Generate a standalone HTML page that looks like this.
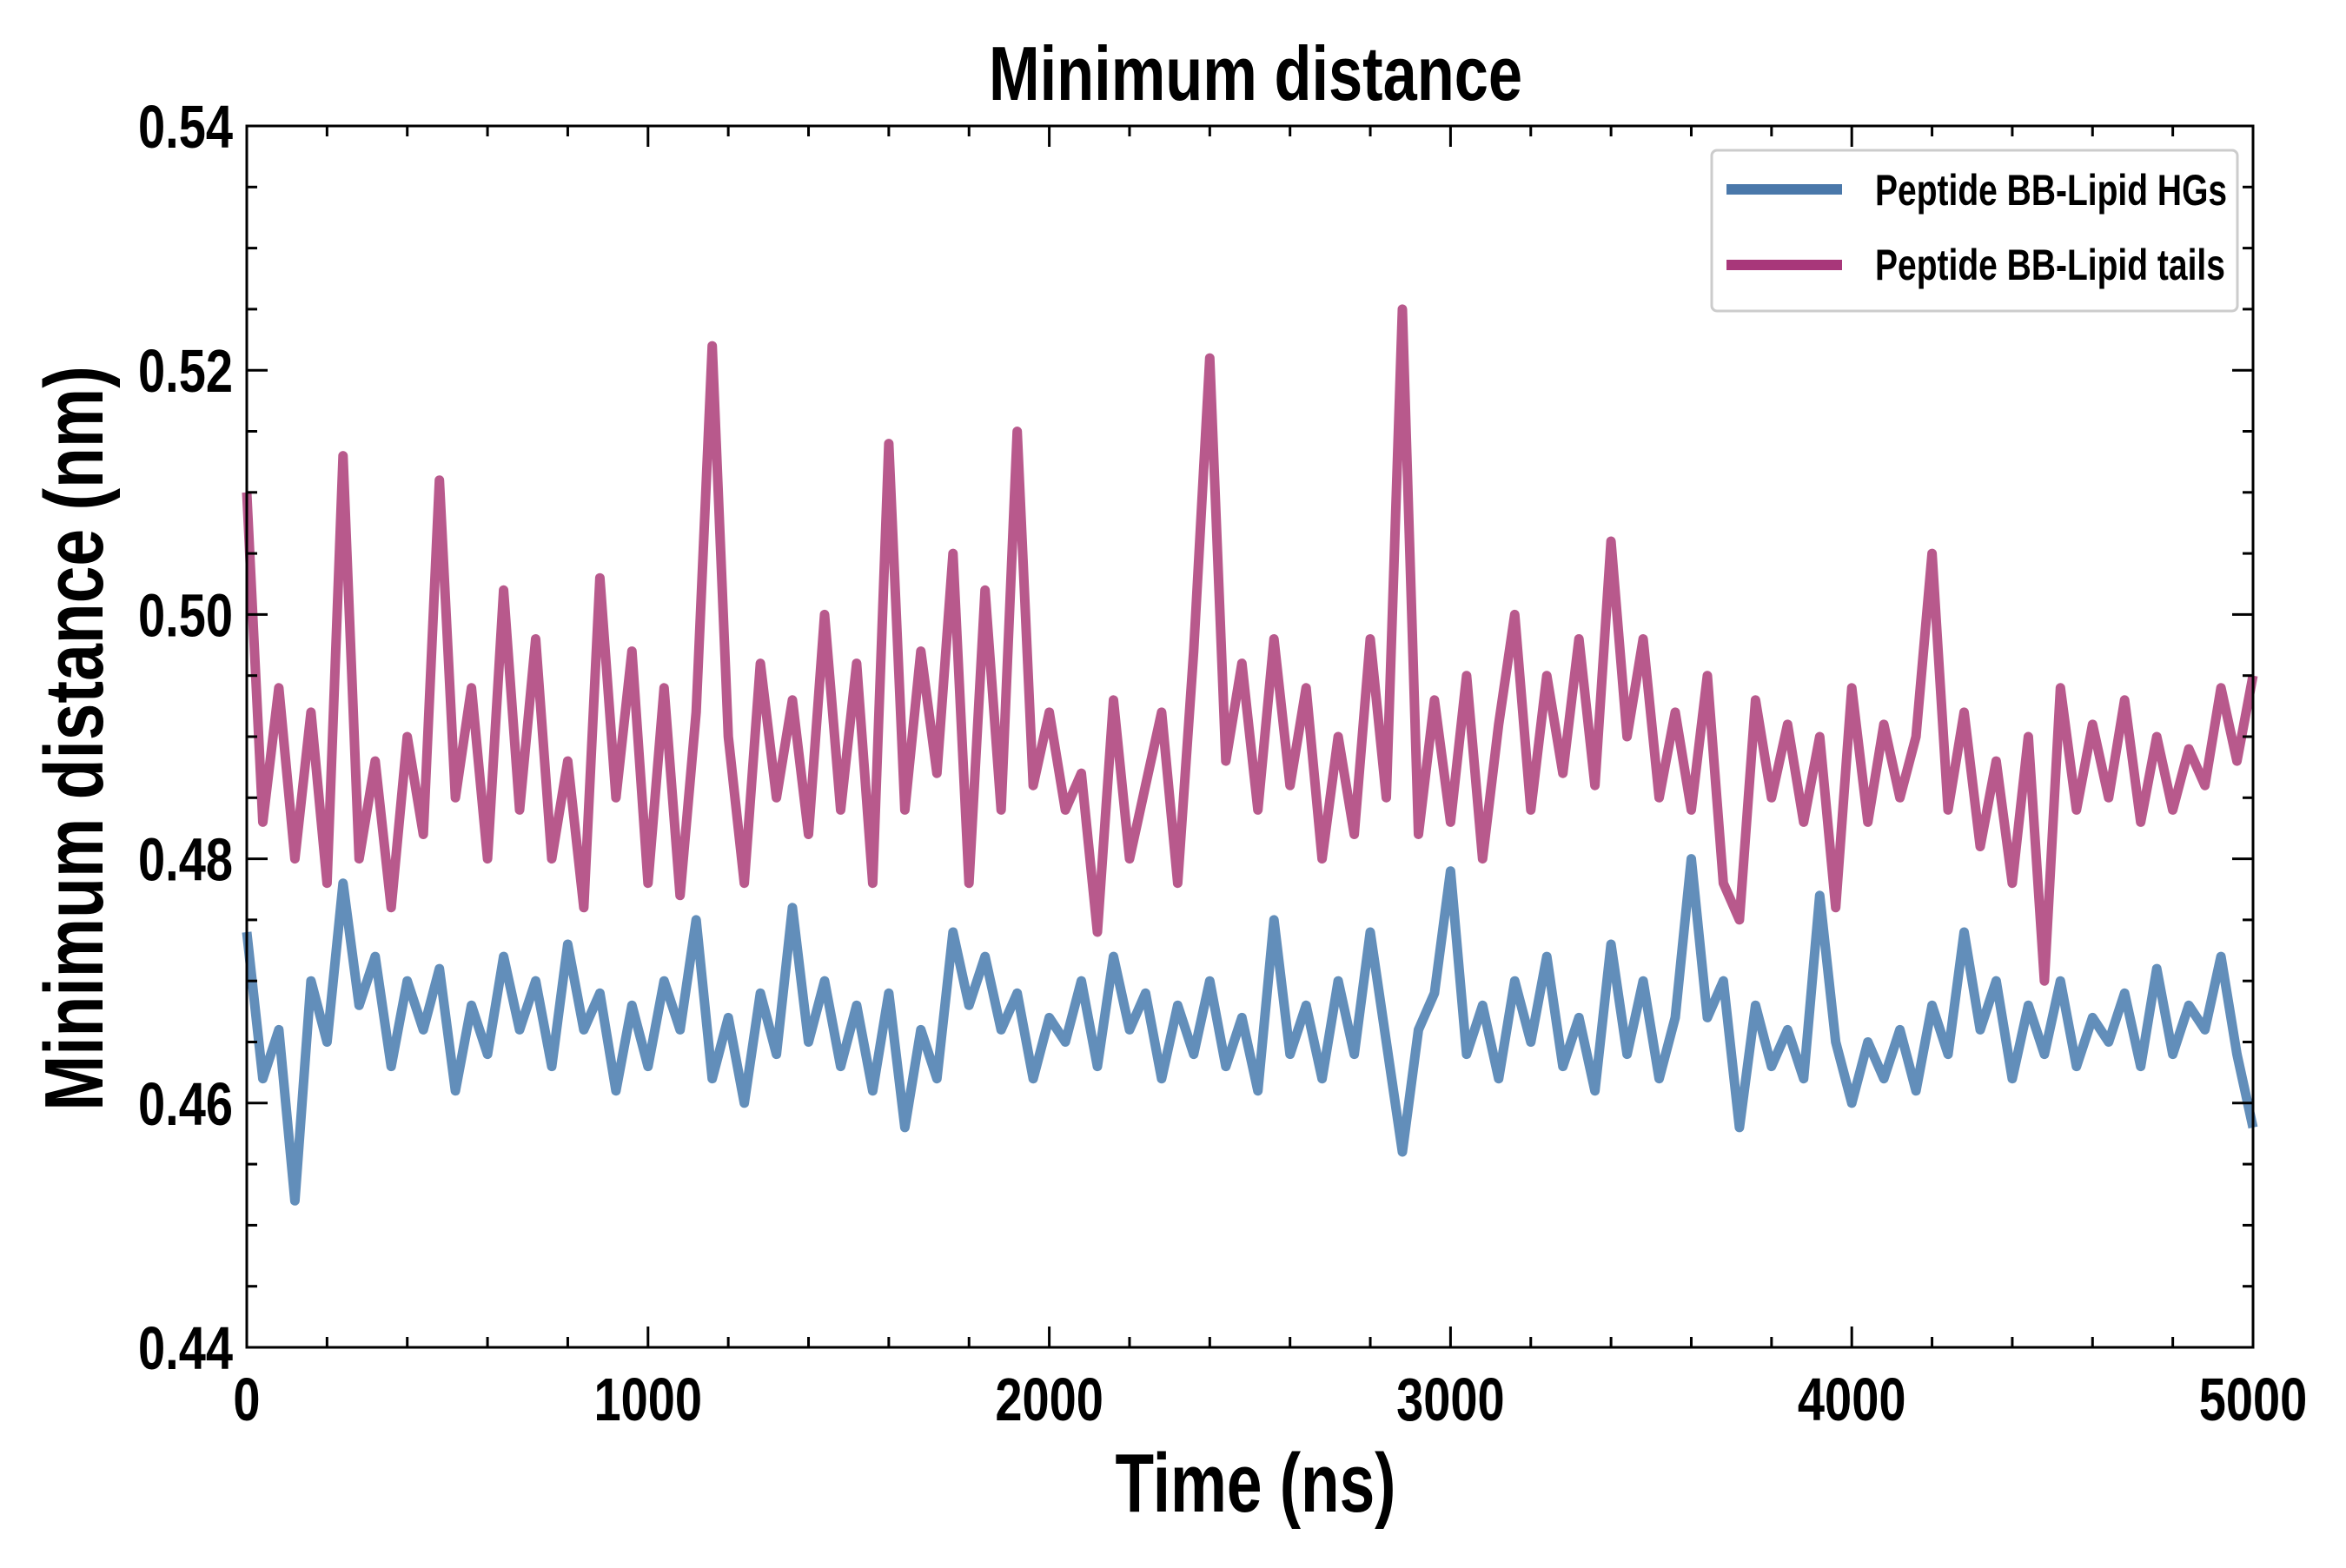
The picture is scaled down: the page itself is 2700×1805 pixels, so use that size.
<!DOCTYPE html>
<html><head><meta charset="utf-8"><style>
html,body{margin:0;padding:0;background:#fff;}
svg text{font-family:"Liberation Sans Narrow","Liberation Sans",sans-serif;font-weight:bold;fill:#000;}
</style></head><body>
<svg id="chart" width="2700" height="1800" viewBox="0 0 2700 1800" xmlns="http://www.w3.org/2000/svg">
<rect width="2700" height="1800" fill="#fff"/>
<g id="marks"></g>
<g id="axes"></g>
<g transform="translate(1445,115) scale(0.8,1)"><text x="0" y="0" font-size="88" text-anchor="middle">Minimum distance</text></g>
<g transform="translate(1445,1740) scale(0.76,1)"><text x="0" y="0" font-size="96" text-anchor="middle">Time (ns)</text></g>
<g transform="translate(118,850) rotate(-90) scale(0.8,1)"><text x="0" y="0" font-size="96" text-anchor="middle">Minimum distance (nm)</text></g>
<g>
<rect x="1970" y="173" width="605" height="185" fill="#fff" stroke="#ccc" stroke-width="3" rx="6"/>
<line x1="1987" y1="218" x2="2120" y2="218" stroke="#4a78aa" stroke-width="12"/>
<g transform="translate(2158,236) scale(0.78,1)"><text x="0" y="0" font-size="50">Peptide BB-Lipid HGs</text></g>
<line x1="1987" y1="305" x2="2120" y2="305" stroke="#a8377a" stroke-width="12"/>
<g transform="translate(2158,322) scale(0.78,1)"><text x="0" y="0" font-size="50">Peptide BB-Lipid tails</text></g>
</g>
</svg>
<script>
const xTicks=[0,1000,2000,3000,4000,5000];
const yTicks=[0.44,0.46,0.48,0.50,0.52,0.54];
const tMax=5000;
const tailsValues=[0.510,0.483,0.494,0.480,0.492,0.478,0.513,0.480,0.488,0.476,
0.490,0.482,0.511,0.485,0.494,0.480,0.502,0.484,0.498,0.480,
0.488,0.476,0.503,0.485,0.497,0.478,0.494,0.477,0.492,0.522,
0.490,0.478,0.496,0.485,0.493,0.482,0.500,0.484,0.496,0.478,
0.514,0.484,0.497,0.487,0.505,0.478,0.502,0.484,0.515,0.486,
0.492,0.484,0.487,0.474,0.493,0.480,0.486,0.492,0.478,0.497,
0.521,0.488,0.496,0.484,0.498,0.486,0.494,0.480,0.490,0.482,
0.498,0.485,0.525,0.482,0.493,0.483,0.495,0.480,0.491,0.500,
0.484,0.495,0.487,0.498,0.486,0.506,0.490,0.498,0.485,0.492,
0.484,0.495,0.478,0.475,0.493,0.485,0.491,0.483,0.490,0.476,
0.494,0.483,0.491,0.485,0.490,0.505,0.484,0.492,0.481,0.488,
0.478,0.490,0.470,0.494,0.484,0.491,0.485,0.493,0.483,0.490,
0.484,0.489,0.486,0.494,0.488,0.495];
const hgsValues=[0.474,0.462,0.466,0.452,0.470,0.465,0.478,0.468,0.472,0.463,
0.470,0.466,0.471,0.461,0.468,0.464,0.472,0.466,0.470,0.463,
0.473,0.466,0.469,0.461,0.468,0.463,0.470,0.466,0.475,0.462,
0.467,0.460,0.469,0.464,0.476,0.465,0.470,0.463,0.468,0.461,
0.469,0.458,0.466,0.462,0.474,0.468,0.472,0.466,0.469,0.462,
0.467,0.465,0.470,0.463,0.472,0.466,0.469,0.462,0.468,0.464,
0.470,0.463,0.467,0.461,0.475,0.464,0.468,0.462,0.470,0.464,
0.474,0.465,0.456,0.466,0.469,0.479,0.464,0.468,0.462,0.470,
0.465,0.472,0.463,0.467,0.461,0.473,0.464,0.470,0.462,0.467,
0.480,0.467,0.470,0.458,0.468,0.463,0.466,0.462,0.477,0.465,
0.460,0.465,0.462,0.466,0.461,0.468,0.464,0.474,0.466,0.470,
0.462,0.468,0.464,0.470,0.463,0.467,0.465,0.469,0.463,0.471,
0.464,0.468,0.466,0.472,0.464,0.458];
const L=284,R=2593,T=145,B=1551,yMin=0.44,yMax=0.54;
const sx=t=>L+(t/tMax)*(R-L);
const sy=v=>B-(v-yMin)/(yMax-yMin)*(B-T);
const NS='http://www.w3.org/2000/svg';
const marks=document.getElementById('marks'),axes=document.getElementById('axes');
function series(vals,color,name){
  const n=vals.length;
  const d=vals.map((v,i)=>(i?'L':'M')+sx(i*tMax/(n-1)).toFixed(1)+','+sy(v).toFixed(1)).join('');
  const p=document.createElementNS(NS,'path');
  p.setAttribute('d',d);p.setAttribute('fill','none');p.setAttribute('stroke',color);
  p.setAttribute('stroke-width','11');p.setAttribute('stroke-linejoin','round');
  
  
  marks.appendChild(p);
}
series(tailsValues,'#b8598c','series-lipid-tails');
series(hgsValues,'#628eba','series-lipid-hgs');
function line(x1,y1,x2,y2,w){
  const l=document.createElementNS(NS,'line');
  l.setAttribute('x1',x1);l.setAttribute('y1',y1);l.setAttribute('x2',x2);l.setAttribute('y2',y2);
  l.setAttribute('stroke','#000');l.setAttribute('stroke-width',w);
  
  
  axes.appendChild(l);
}
const fr=document.createElementNS(NS,'rect');
fr.setAttribute('x',L);fr.setAttribute('y',T);fr.setAttribute('width',R-L);fr.setAttribute('height',B-T);
fr.setAttribute('fill','none');fr.setAttribute('stroke','#000');fr.setAttribute('stroke-width','3');


axes.appendChild(fr);
for(let t=0;t<=tMax;t+=200){const x=sx(t),maj=t%1000===0,len=maj?24:12;line(x,B,x,B-len,3);line(x,T,x,T+len,3);}
for(let k=0;k<=20;k++){const v=yMin+k*0.005,y=sy(v),maj=k%4===0,len=maj?24:12;line(L,y,L+len,y,3);line(R,y,R-len,y,3);}
function label(x,y,txt,anchor,name){
  const g=document.createElementNS(NS,'g');
  g.setAttribute('transform','translate('+x+','+y+') scale(0.8,1)');
  const e=document.createElementNS(NS,'text');
  e.setAttribute('x',0);e.setAttribute('y',0);e.setAttribute('font-size','70');e.setAttribute('text-anchor',anchor);
  e.textContent=txt;
  
  
  g.appendChild(e);axes.appendChild(g);
}
xTicks.forEach(t=>label(sx(t),1635,String(t),'middle','x-tick-label'));
yTicks.forEach(v=>label(268,sy(v)+25,v.toFixed(2),'end','y-tick-label'));
</script>
</body></html>
